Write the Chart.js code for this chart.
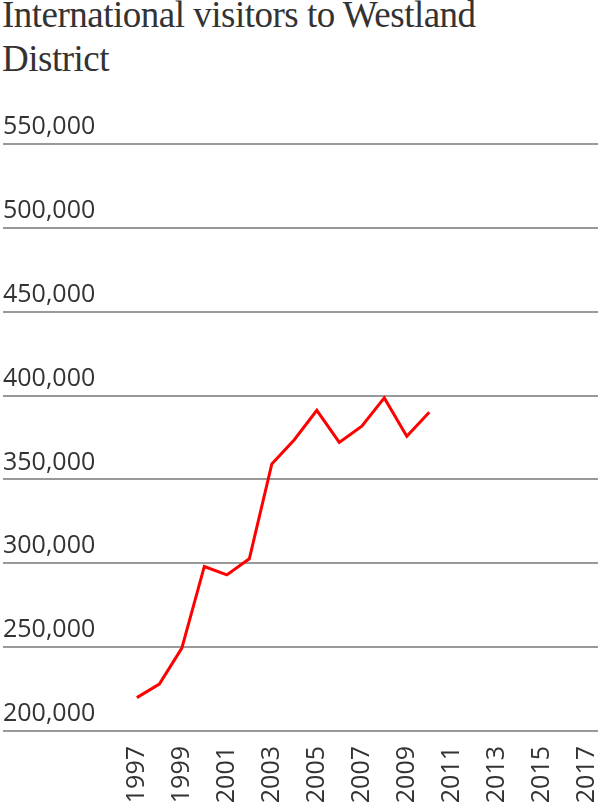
<!DOCTYPE html>
<html>
<head>
<meta charset="utf-8">
<script src="https://cdn.jsdelivr.net/npm/chart.js@4"></script>
<style>
  html, body { margin: 0; padding: 0; background: #fff; }
  #wrap { position: relative; width: 602px; height: 807px; }
  #titulo {
    position: absolute; left: 2px; top: -7px; margin: 0;
    font-family: "Liberation Serif", serif; font-weight: normal;
    font-size: 37px; line-height: 44px; color: #333; letter-spacing: -0.5px;
    width: 580px;
  }
  canvas { position: absolute; left: 0; top: 0; }
</style>
</head>
<body>
<div id="wrap">
  <h1 id="titulo">International visitors to Westland District</h1>
  <canvas id="grafico" width="602" height="807"></canvas>
</div>
<script>
  // Dados
  const anos = [1997, 1998, 1999, 2000, 2001, 2002, 2003, 2004, 2005, 2006, 2007, 2008, 2009, 2010];
  const visitantes = [219900, 228000, 249400, 298100, 293100, 302700, 359200, 373700, 391200, 372100, 381700, 398600, 375700, 390000];
  const anosRotulo = [1997, 1999, 2001, 2003, 2005, 2007, 2009, 2011, 2013, 2015, 2017];

  const corTexto = '#333';
  const corGrade = '#999';

  new Chart(document.getElementById('grafico'), {
    type: 'line',
    data: {
      datasets: [{
        label: 'International visitors',
        data: anos.map((a, i) => ({ x: a, y: visitantes[i] })),
        borderColor: '#ff0000',
        borderWidth: 3,
        pointRadius: 0,
        fill: false,
        tension: 0
      }]
    },
    options: {
      responsive: false,
      animation: false,
      layout: { padding: { top: 144, left: 3, right: 4, bottom: 0 } },
      plugins: { legend: { display: false }, tooltip: { enabled: false } },
      scales: {
        x: {
          type: 'linear',
          min: 1991.05,
          max: 2017.5,
          afterBuildTicks: s => { s.ticks = anosRotulo.map(v => ({ value: v })); },
          afterFit: s => { s.height = 76; s.paddingLeft = 0; s.paddingRight = 0; },
          grid: { display: false },
          border: { display: false },
          ticks: {
            minRotation: 90, maxRotation: 90, padding: 7,
            color: corTexto,
            font: { family: '"Open Sans", sans-serif', size: 25 },
            callback: v => String(v)
          }
        },
        y: {
          min: 200000,
          max: 550000,
          afterFit: s => { s.width = 0; s.paddingTop = 0; s.paddingBottom = 0; },
          border: { display: false },
          grid: { color: corGrade, lineWidth: 2, drawTicks: false },
          ticks: {
            stepSize: 50000,
            mirror: true,
            padding: 0,
            labelOffset: -17,
            color: corTexto,
            font: { family: '"Open Sans", sans-serif', size: 25 },
            callback: v => v.toLocaleString('en-US')
          }
        }
      }
    }
  });
</script>
</body>
</html>
